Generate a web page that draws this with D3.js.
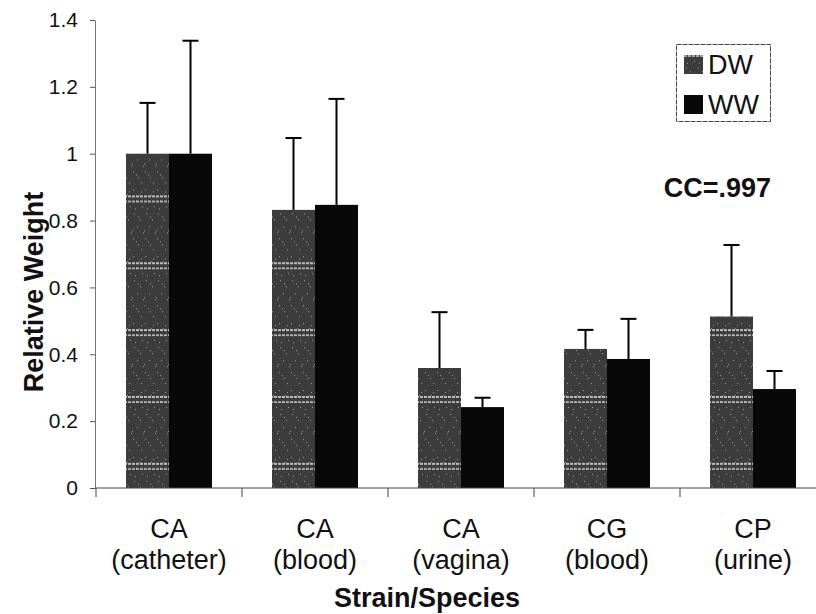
<!DOCTYPE html>
<html>
<head>
<meta charset="utf-8">
<script src="https://cdn.jsdelivr.net/npm/d3@7"></script>
<style>
  body { margin: 0; background: #fff; }
  svg { display: block; font-family: "Liberation Sans", Arial, sans-serif; }
</style>
</head>
<body>
<div id="chart"></div>
<script>
// data
var species = ['CA', 'CA', 'CA', 'CG', 'CP'];
var sources = ['(catheter)', '(blood)', '(vagina)', '(blood)', '(urine)'];
var series = ['DW', 'WW'];
var dwValues = [1.0, 0.832, 0.359, 0.416, 0.513];
var dwErrors = [0.152, 0.215, 0.167, 0.057, 0.214];
var wwValues = [1.0, 0.847, 0.242, 0.386, 0.296];
var wwErrors = [0.338, 0.317, 0.028, 0.12, 0.054];
var yTicks = [0, 0.2, 0.4, 0.6, 0.8, 1, 1.2, 1.4];

var w = 816, h = 614;
var margin = { top: 20, left: 96, bottom: 126 };

var svg = d3.select('#chart').append('svg')
    .attr('width', w)
    .attr('height', h);

var y = d3.scaleLinear()
    .domain([0, 1.4])
    .range([h - margin.bottom, margin.top]);

var x0 = d3.scaleBand()
    .domain(d3.range(species.length))
    .range([margin.left, margin.left + 146 * species.length]);

var x1 = d3.scaleBand()
    .domain(series)
    .range([x0.bandwidth() / 2 - 43, x0.bandwidth() / 2 + 43]);

// speckled dark grey fill with the white dashed streaks of the scan
var defs = svg.append('defs');
var tileH = y(0) - y(0.2);
var pat = defs.append('pattern')
    .attr('id', 'dw')
    .attr('patternUnits', 'userSpaceOnUse')
    .attr('width', 12)
    .attr('height', tileH)
    .attr('y', 387);
pat.append('rect').attr('width', 12).attr('height', tileH).attr('fill', '#3c3c3c');
var specks = [[1, 3], [7, 8], [4, 14], [10, 20], [2, 27], [8, 33], [5, 40], [11, 46],
  [1, 52], [6, 58], [9, 63], [3, 22], [9, 5], [6, 30], [0, 44], [4, 55]];
pat.selectAll('rect.speck')
    .data(specks)
  .enter().append('rect')
    .attr('class', 'speck')
    .attr('x', function (d) { return d[0]; })
    .attr('y', function (d) { return d[1]; })
    .attr('width', 1)
    .attr('height', 1)
    .attr('fill', '#a0a0a0');
pat.selectAll('line')
    .data([10, 15])
  .enter().append('line')
    .attr('x1', 0).attr('x2', 12)
    .attr('y1', function (d) { return d; })
    .attr('y2', function (d) { return d; })
    .attr('stroke', '#e8e8e8')
    .attr('stroke-width', 1.3)
    .attr('stroke-dasharray', '3,1');

var fills = { DW: 'url(#dw)', WW: '#080808' };

// y axis
var yAxis = svg.append('g')
    .attr('transform', 'translate(' + (margin.left - 1) + ',0)')
    .call(d3.axisLeft(y)
      .tickValues(yTicks)
      .tickSize(5)
      .tickSizeOuter(0)
      .tickPadding(12)
      .tickFormat(function (d) { return String(d); }));
yAxis.select('.domain').attr('stroke', '#777');
yAxis.selectAll('.tick line').attr('stroke', '#555');
yAxis.selectAll('.tick text')
    .style('font-size', '21px')
    .attr('fill', '#111')
    .attr('font-family', '"Liberation Sans", Arial, sans-serif');

// bars
var groups = svg.selectAll('g.group')
    .data(d3.range(species.length))
  .enter().append('g')
    .attr('class', 'group')
    .attr('transform', function (i) { return 'translate(' + x0(i) + ',0)'; });

var rows = function (i) {
  return [
    { s: 'DW', v: dwValues[i], e: dwErrors[i] },
    { s: 'WW', v: wwValues[i], e: wwErrors[i] }
  ];
};

groups.selectAll('rect')
    .data(rows)
  .enter().append('rect')
    .attr('x', function (d) { return x1(d.s); })
    .attr('y', function (d) { return y(d.v); })
    .attr('width', x1.bandwidth())
    .attr('height', function (d) { return y(0) - y(d.v); })
    .attr('fill', function (d) { return fills[d.s]; });

// error bars, upper side only
var errs = groups.selectAll('g.err')
    .data(rows)
  .enter().append('g')
    .attr('class', 'err')
    .attr('stroke', '#000')
    .attr('stroke-width', 2);
errs.append('line')
    .attr('x1', function (d) { return x1(d.s) + x1.bandwidth() / 2; })
    .attr('x2', function (d) { return x1(d.s) + x1.bandwidth() / 2; })
    .attr('y1', function (d) { return y(d.v); })
    .attr('y2', function (d) { return y(d.v + d.e); });
errs.append('line')
    .attr('x1', function (d) { return x1(d.s) + x1.bandwidth() / 2 - 8; })
    .attr('x2', function (d) { return x1(d.s) + x1.bandwidth() / 2 + 8; })
    .attr('y1', function (d) { return y(d.v + d.e); })
    .attr('y2', function (d) { return y(d.v + d.e); });

// x axis with ticks at the category boundaries
var xAxis = svg.append('g');
xAxis.append('line')
    .attr('x1', margin.left - 1).attr('x2', w)
    .attr('y1', y(0)).attr('y2', y(0))
    .attr('stroke', '#444');
xAxis.selectAll('line.tick')
    .data(d3.range(species.length))
  .enter().append('line')
    .attr('class', 'tick')
    .attr('x1', function (i) { return x0(i); })
    .attr('x2', function (i) { return x0(i); })
    .attr('y1', y(0))
    .attr('y2', y(0) + 9)
    .attr('stroke', '#444');

var labels = xAxis.selectAll('text.cat')
    .data(d3.range(species.length))
  .enter().append('text')
    .attr('class', 'cat')
    .attr('text-anchor', 'middle')
    .style('font-size', '27px')
    .attr('fill', '#111');
labels.append('tspan')
    .attr('x', function (i) { return x0(i) + x0.bandwidth() / 2; })
    .attr('y', 538)
    .text(function (i) { return species[i]; });
labels.append('tspan')
    .attr('x', function (i) { return x0(i) + x0.bandwidth() / 2; })
    .attr('y', 569)
    .text(function (i) { return sources[i]; });

// axis titles
svg.append('text')
    .attr('x', 427)
    .attr('y', 607)
    .attr('text-anchor', 'middle')
    .style('font-size', '27px')
    .style('font-weight', 'bold')
    .attr('fill', '#111')
    .text('Strain/Species');

svg.append('text')
    .attr('transform', 'translate(43,292) rotate(-90)')
    .attr('text-anchor', 'middle')
    .style('font-size', '27px')
    .style('font-weight', 'bold')
    .attr('fill', '#111')
    .text('Relative Weight');

svg.append('text')
    .attr('x', 771)
    .attr('y', 197)
    .attr('text-anchor', 'end')
    .style('font-size', '27px')
    .style('font-weight', 'bold')
    .attr('fill', '#111')
    .text('CC=.997');

// legend
var legend = svg.append('g').attr('class', 'legend');
legend.append('rect')
    .attr('x', 676.5).attr('y', 44.5)
    .attr('width', 94).attr('height', 77)
    .attr('fill', '#fff')
    .attr('stroke', '#444')
    .attr('stroke-dasharray', '5,1');
var items = legend.selectAll('g.item')
    .data(series)
  .enter().append('g')
    .attr('class', 'item')
    .attr('transform', function (d, i) { return 'translate(684,' + (55 + i * 40) + ')'; });
items.append('rect')
    .attr('width', 19)
    .attr('height', 19)
    .attr('fill', function (d) { return fills[d]; });
items.append('text')
    .attr('x', 24)
    .attr('y', 19)
    .style('font-size', '27px')
    .attr('fill', '#111')
    .text(function (d) { return d; });
</script>
</body>
</html>
